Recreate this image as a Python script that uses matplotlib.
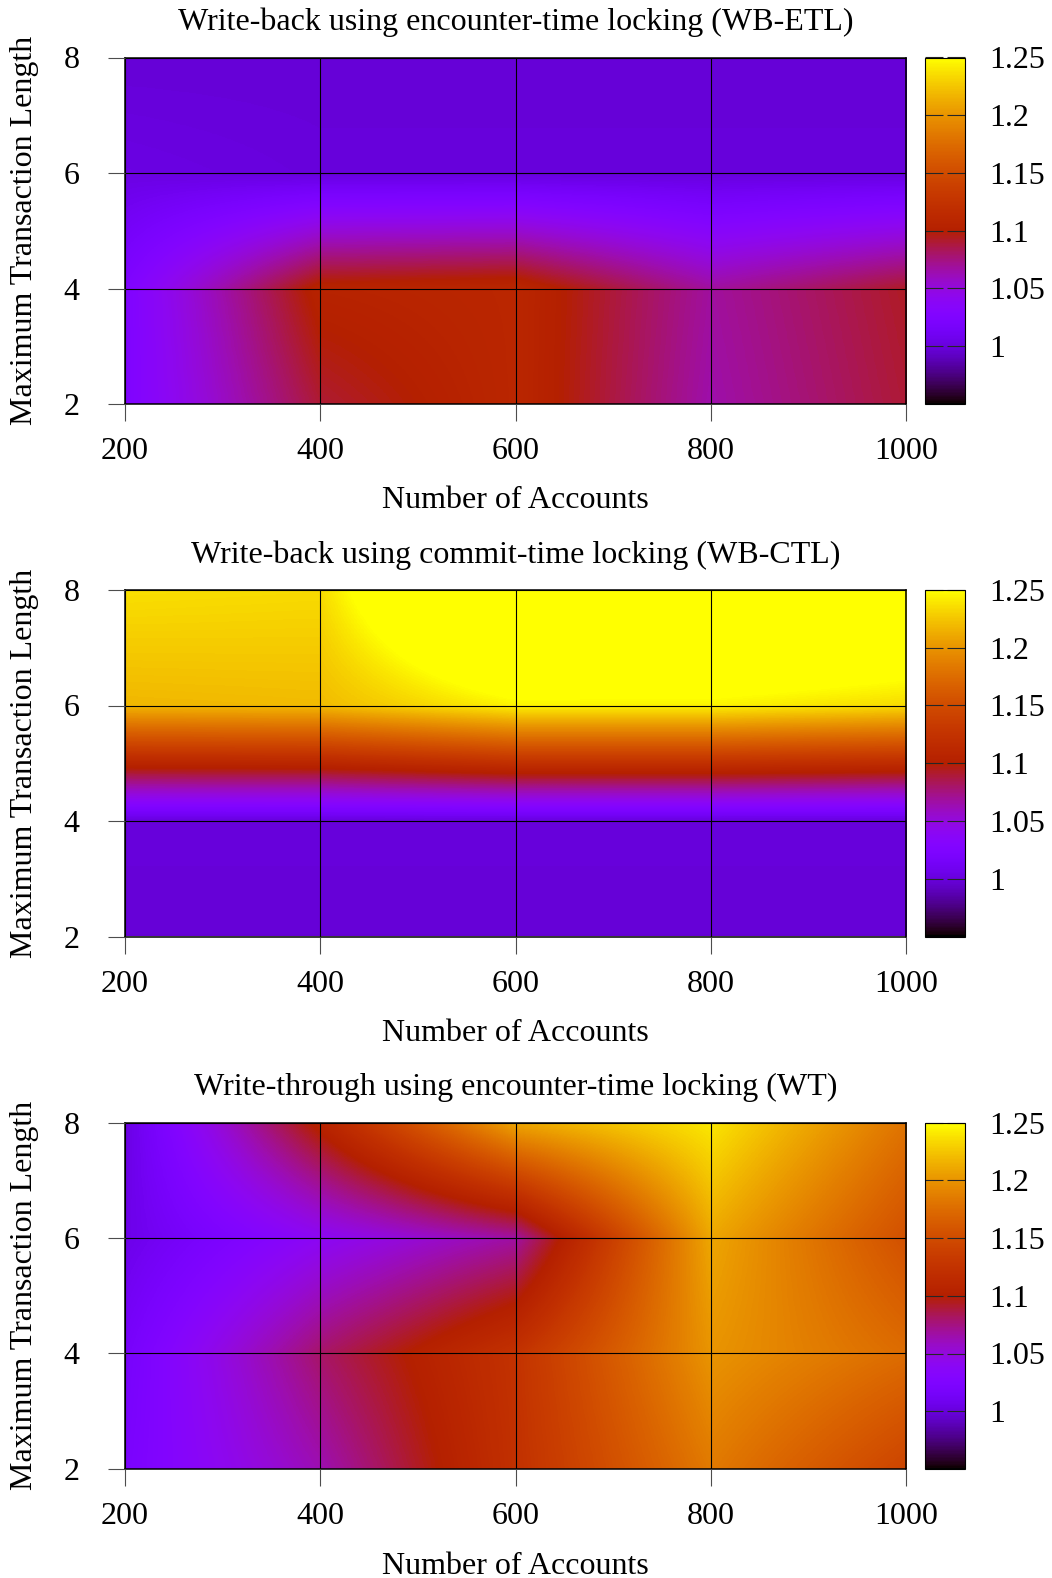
import matplotlib
matplotlib.use("Agg")
import matplotlib.pyplot as plt
import numpy as np
from matplotlib.ticker import FuncFormatter

# grid of the measurements
accounts = [200, 400, 600, 800, 1000]
max_len = [2, 4, 6, 8]

# speedup values, one row per max transaction length (2, 4, 6, 8)
wb_etl = [
    [1.025, 1.090, 1.110, 1.065, 1.090],
    [1.025, 1.105, 1.110, 1.068, 1.093],
    [1.003, 1.000, 1.000, 1.000, 1.000],
    [0.998, 0.998, 0.998, 0.998, 0.998],
]
wb_ctl = [
    [0.998, 0.998, 0.998, 0.998, 0.998],
    [1.000, 1.000, 1.000, 1.000, 1.000],
    [1.218, 1.220, 1.245, 1.245, 1.235],
    [1.237, 1.235, 1.330, 1.320, 1.300],
]
wt = [
    [1.020, 1.063, 1.123, 1.184, 1.143],
    [1.016, 1.080, 1.125, 1.200, 1.175],
    [1.005, 1.040, 1.067, 1.210, 1.154],
    [1.002, 1.105, 1.210, 1.240, 1.180],
]

titles = [
    "Write-back using encounter-time locking (WB-ETL)",
    "Write-back using commit-time locking (WB-CTL)",
    "Write-through using encounter-time locking (WT)",
]
cb_ticks = [1.0, 1.05, 1.1, 1.15, 1.2, 1.25]
cb_min, cb_max = 0.95, 1.25

plt.rcParams["font.family"] = ["Liberation Serif", "DejaVu Serif"]
plt.rcParams["font.size"] = 23

W, H = 1052, 1578
fig = plt.figure(figsize=(W / 100, H / 100), dpi=100)

px_left, px_right = 125, 906
px_h = 346.5
tops = [57.5, 590, 1122.5]
cb_left, cb_w = 925.3, 40

dx = accounts[1] - accounts[0]
dy = max_len[1] - max_len[0]
extent = [accounts[0] - dx / 2, accounts[-1] + dx / 2,
          max_len[0] - dy / 2, max_len[-1] + dy / 2]

for top, title, data in zip(tops, titles, [wb_etl, wb_ctl, wt]):
    bottom = 1 - (top + px_h) / H
    ax = fig.add_axes([px_left / W, bottom, (px_right - px_left) / W, px_h / H])
    im = ax.imshow(np.array(data), origin="lower", extent=extent, aspect="auto",
                   cmap="gnuplot", vmin=cb_min, vmax=cb_max,
                   interpolation="bilinear", interpolation_stage="data")
    ax.set_xlim(accounts[0], accounts[-1])
    ax.set_ylim(max_len[0], max_len[-1])
    ax.set_xticks(accounts)
    ax.set_yticks(max_len)
    ax.grid(True, color="black", linewidth=0.8)
    ax.set_axisbelow(False)
    ax.tick_params(axis="both", direction="out", length=12.5, width=0.8, color="0.3")
    ax.tick_params(axis="x", pad=11.5)
    ax.tick_params(axis="y", pad=20)
    for s in ax.spines.values():
        s.set_linewidth(1.1)

    cx = (px_left + px_right) / 2 / W
    fig.text(cx, 1 - (top - 35) / H, title, ha="center", va="center")
    fig.text(cx, 1 - (top + px_h + 97) / H, "Number of Accounts", ha="center", va="center")
    fig.text(25 / W, 1 - (top + px_h / 2) / H, "Maximum Transaction Length",
             ha="center", va="center", rotation=90)

    cax = fig.add_axes([cb_left / W, bottom, cb_w / W, px_h / H])
    cax.set_facecolor("black")
    cb = fig.colorbar(im, cax=cax, ticks=cb_ticks,
                      format=FuncFormatter(lambda v, p: "%g" % round(v, 2)))
    cb.outline.set_linewidth(0.8)
    cax.tick_params(direction="in", left=True, right=True, length=13, width=0.8,
                    color="0.15", pad=17.5)

fig.savefig("out.png", dpi=100)
